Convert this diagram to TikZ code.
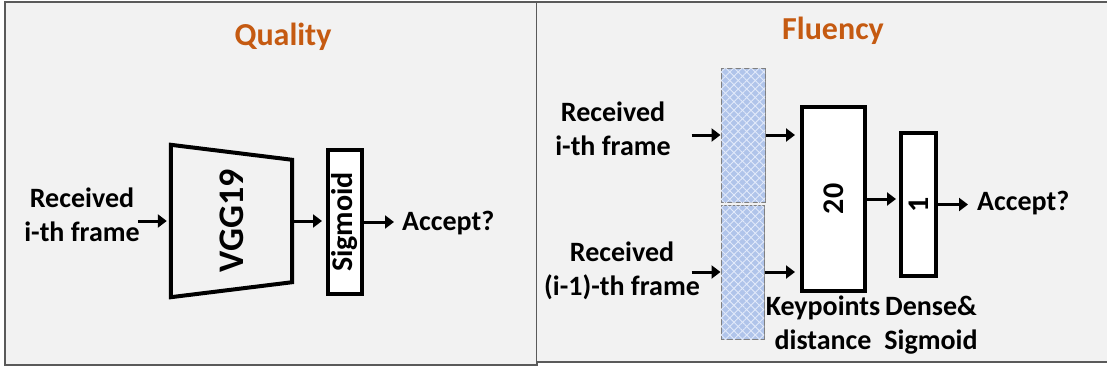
\documentclass[tikz,border=0pt]{standalone}
\usepackage{fontspec}
\setmainfont{Carlito}
\usepackage{tikz}
\usetikzlibrary{arrows.meta, patterns.meta}
\definecolor{titleorange}{RGB}{197,90,17}
\definecolor{panelgray}{RGB}{242,242,242}
\definecolor{panelline}{RGB}{90,90,90}
\definecolor{hatchblue}{RGB}{176,196,234}
\definecolor{hatchlight}{RGB}{226,234,250}
\tikzstyle{arrow} = [line width=3pt,-{Triangle[length=9pt,width=13pt]}]
\tikzstyle{lbl} = [font=\fontsize{28}{34}\selectfont\bfseries, align=center, inner sep=0pt]
\tikzstyle{title} = [font=\fontsize{32}{38}\selectfont\bfseries, text=titleorange, inner sep=0pt]
\tikzstyle{block} = [draw, line width=4pt, fill=white, inner sep=0pt, font=\fontsize{30}{36}\selectfont\bfseries]
\tikzstyle{hatchbox} = [draw=gray, line width=1pt, fill=hatchblue,
  postaction={pattern={Lines[angle=45,distance=6pt,line width=0.9pt]}, pattern color=hatchlight},
  postaction={pattern={Lines[angle=-45,distance=6pt,line width=0.9pt]}, pattern color=hatchlight}]

\begin{document}
\begin{tikzpicture}[x=1pt,y=-1pt]
\useasboundingbox (0,0) rectangle (1107,369);
\fill[white] (0,0) rectangle (1107,369);

% panels
\draw[panelline, line width=1.2pt, fill=panelgray] (5,2) rectangle (537,365);
\fill[panelgray] (537,2) rectangle (1107,362);
\draw[panelline, line width=1.2pt] (537,2) -- (1107,2);
\draw[panelline, line width=1.2pt] (537,362) -- (1107,362);

% quality
\node[title] (qtitle) at (283,37) {Quality};
\node[lbl, anchor=north] (qin) at (82,188) {Received\\i-th frame};
\node[minimum width=121pt, minimum height=152pt, inner sep=0pt, font=\fontsize{36}{42}\selectfont\bfseries] (vgg) at (231.5,221) {\rotatebox{90}{VGG19}};
\draw[line width=4pt, line join=miter] (vgg.north west) -- ([yshift=-15pt]vgg.north east) -- ([yshift=15pt]vgg.south east) -- (vgg.south west) -- cycle;
\node[block, minimum width=34pt, minimum height=144pt] (sig) at (345,222) {\rotatebox{90}{Sigmoid}};
\node[lbl, anchor=west] (qacc) at (402,223) {Accept?};

\draw[arrow, shorten >=4pt] ([xshift=-33pt]vgg.west) -- (vgg.west);
\draw[arrow, shorten >=4pt] (vgg.east) -- (vgg.east -| sig.west);
\draw[arrow, shorten >=8pt] (sig.east) -- (sig.east -| qacc.west);

% fluency
\node[title] (ftitle) at (833,31) {Fluency};
\node[lbl, anchor=north] (fin1) at (613,102) {Received\\i-th frame};
\node[lbl, anchor=north] (fin2) at (622,242) {Received\\(i-1)-th frame};
\node[hatchbox, minimum width=44pt, minimum height=134pt] (hb1) at (743,135) {};
\node[hatchbox, minimum width=43pt, minimum height=134pt] (hb2) at (742.5,272) {};
\node[block, minimum width=63pt, minimum height=184pt] (k20) at (833.5,199) {\rotatebox{90}{20}};
\node[block, minimum width=35pt, minimum height=143pt] (d1) at (918.5,204.5) {\rotatebox{90}{1}};
\node[lbl, anchor=west] (facc) at (977,203) {Accept?};
\node[lbl, anchor=north] (kplbl) at (823,296) {Keypoints\\distance};
\node[lbl, anchor=north] (dslbl) at (931,296) {Dense\&\\Sigmoid};

\draw[arrow] ([xshift=-29pt]hb1.west) -- (hb1.west);
\draw[arrow] ([xshift=-29pt]hb2.west) -- (hb2.west);
\draw[arrow, shorten >=5pt] (hb1.east) -- (hb1.east -| k20.west);
\draw[arrow, shorten >=5pt] (hb2.east) -- (hb2.east -| k20.west);
\draw[arrow, shorten >=3pt] (k20.east) -- (k20.east -| d1.west);
\draw[arrow, shorten >=9pt] (d1.east) -- (d1.east -| facc.west);

\end{tikzpicture}
\end{document}
